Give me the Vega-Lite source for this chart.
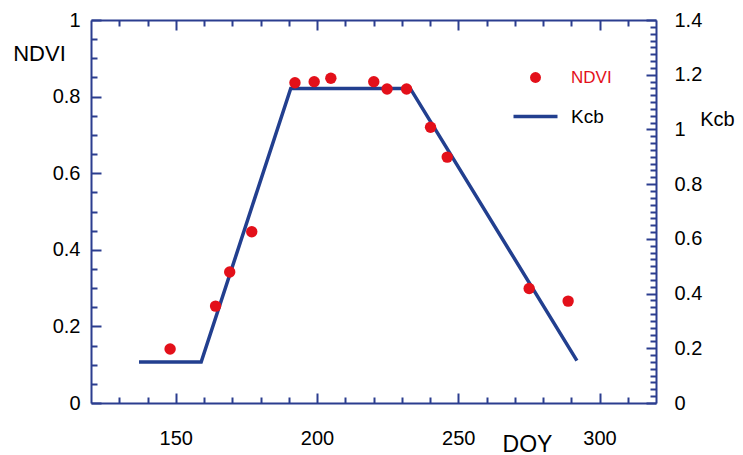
{
  "$schema": "https://vega.github.io/schema/vega-lite/v6.json",
  "width": 565,
  "height": 383,
  "autosize": "none",
  "padding": {"left": 91, "top": 20, "right": 87, "bottom": 52},
  "background": "white",
  "datasets": {
    "kcb": [
      {"DOY": 137, "Kcb": 0.15, "series": "Kcb"},
      {"DOY": 159, "Kcb": 0.15, "series": "Kcb"},
      {"DOY": 190.7, "Kcb": 1.15, "series": "Kcb"},
      {"DOY": 233, "Kcb": 1.15, "series": "Kcb"},
      {"DOY": 292, "Kcb": 0.155, "series": "Kcb"}
    ],
    "ndvi": [
      {"DOY": 148, "NDVI": 0.141, "series": "NDVI"},
      {"DOY": 164.1, "NDVI": 0.253, "series": "NDVI"},
      {"DOY": 169.1, "NDVI": 0.342, "series": "NDVI"},
      {"DOY": 176.9, "NDVI": 0.447, "series": "NDVI"},
      {"DOY": 192.2, "NDVI": 0.836, "series": "NDVI"},
      {"DOY": 199.0, "NDVI": 0.839, "series": "NDVI"},
      {"DOY": 204.9, "NDVI": 0.848, "series": "NDVI"},
      {"DOY": 220.1, "NDVI": 0.839, "series": "NDVI"},
      {"DOY": 224.8, "NDVI": 0.82, "series": "NDVI"},
      {"DOY": 231.7, "NDVI": 0.82, "series": "NDVI"},
      {"DOY": 240.2, "NDVI": 0.72, "series": "NDVI"},
      {"DOY": 246.1, "NDVI": 0.642, "series": "NDVI"},
      {"DOY": 275.1, "NDVI": 0.299, "series": "NDVI"},
      {"DOY": 288.9, "NDVI": 0.266, "series": "NDVI"}
    ]
  },
  "config": {
    "view": {"stroke": null},
    "axis": {
      "domainColor": "#2b3d8f",
      "domainWidth": 2,
      "tickColor": "#2b3d8f",
      "tickWidth": 2,
      "grid": false,
      "labelFont": "Liberation Sans",
      "labelFontSize": 20,
      "labelColor": "black",
      "titleColor": "black",
      "titleFontWeight": "normal"
    }
  },
  "layer": [
    {
      "data": {"name": "kcb"},
      "mark": {"type": "line", "strokeWidth": 3.5},
      "encoding": {
        "x": {
          "field": "DOY", "type": "quantitative",
          "scale": {"domain": [120, 320], "nice": false, "zero": false},
          "axis": {
            "orient": "bottom",
            "values": [130, 140, 150, 160, 170, 180, 190, 200, 210, 220, 230, 240, 250, 260, 270, 280, 290, 300, 310],
            "labelExpr": "datum.value % 50 === 0 ? datum.label : ''",
            "tickSize": {"condition": {"test": "datum.value % 50 === 0", "value": -10}, "value": -6},
            "labelPadding": 35,
            "labelFlush": false,
            "title": "DOY",
            "titleFont": "Liberation Sans",
            "titleFontSize": 23,
            "titleX": 436,
            "titleY": 48,
            "titleAlign": "center",
            "titleBaseline": "alphabetic"
          }
        },
        "y": {
          "field": "Kcb", "type": "quantitative",
          "scale": {"domain": [0, 1.4], "nice": false},
          "axis": {
            "orient": "right",
            "values": [0, 0.025, 0.05, 0.075, 0.1, 0.125, 0.15, 0.175, 0.2, 0.225, 0.25, 0.275, 0.3, 0.325, 0.35, 0.375, 0.4, 0.425, 0.45, 0.475, 0.5, 0.525, 0.55, 0.575, 0.6, 0.625, 0.65, 0.675, 0.7, 0.725, 0.75, 0.775, 0.8, 0.825, 0.85, 0.875, 0.9, 0.925, 0.95, 0.975, 1, 1.025, 1.05, 1.075, 1.1, 1.125, 1.15, 1.175, 1.2, 1.225, 1.25, 1.275, 1.3, 1.325, 1.35, 1.375, 1.4],
            "labelExpr": "abs(datum.value * 5 - round(datum.value * 5)) < 0.001 ? format(datum.value, '.1~f') : ''",
            "tickSize": {"condition": {"test": "abs(datum.value * 5 - round(datum.value * 5)) < 0.001", "value": -10}, "value": -6},
            "labelPadding": 28,
            "labelFlush": false,
            "title": "Kcb",
            "titleFont": "Liberation Sans",
            "titleFontSize": 20,
            "titleAngle": 0,
            "titleX": 61,
            "titleY": 99,
            "titleAlign": "center",
            "titleBaseline": "middle"
          }
        },
        "color": {
          "field": "series", "type": "nominal",
          "scale": {"domain": ["NDVI", "Kcb"], "range": ["#e3101a", "#223f8f"]},
          "legend": {
            "orient": "none",
            "legendX": 435,
            "legendY": 48,
            "title": null,
            "padding": 0,
            "symbolStrokeWidth": 3,
            "rowPadding": 21,
            "labelOffset": 26,
            "labelFont": "Liberation Sans",
            "labelFontSize": 19,
            "labelLimit": 200,
            "encode": {
              "symbols": {
                "update": {
                  "shape": {"signal": "datum.value === 'Kcb' ? 'stroke' : 'circle'"},
                  "size": {"signal": "datum.value === 'Kcb' ? 1936 : 120"},
                  "fill": {"signal": "datum.value === 'Kcb' ? 'transparent' : '#e3101a'"},
                  "stroke": {"signal": "datum.value === 'Kcb' ? '#2a65b0' : '#e3101a'"},
                  "strokeWidth": {"signal": "datum.value === 'Kcb' ? 3.5 : 0"},
                  "opacity": {"value": 1},
                  "fillOpacity": {"value": 1}
                }
              },
              "labels": {
                "update": {
                  "fill": {"signal": "datum.value === 'NDVI' ? '#e3101a' : 'black'"},
                  "fontSize": {"signal": "datum.value === 'NDVI' ? 17 : 19"}
                }
              }
            }
          }
        }
      }
    },
    {
      "data": {"name": "ndvi"},
      "mark": {"type": "point", "filled": true, "shape": "circle", "size": 130, "opacity": 1},
      "encoding": {
        "x": {
          "field": "DOY", "type": "quantitative",
          "axis": {
            "orient": "top",
            "values": [130, 140, 150, 160, 170, 180, 190, 200, 210, 220, 230, 240, 250, 260, 270, 280, 290, 300, 310],
            "labels": false,
            "tickSize": {"condition": {"test": "datum.value % 50 === 0", "value": -10}, "value": -6},
            "title": null
          }
        },
        "y": {
          "field": "NDVI", "type": "quantitative",
          "scale": {"domain": [0, 1], "nice": false},
          "axis": {
            "orient": "left",
            "values": [0, 0.05, 0.1, 0.15, 0.2, 0.25, 0.3, 0.35, 0.4, 0.45, 0.5, 0.55, 0.6, 0.65, 0.7, 0.75, 0.8, 0.85, 0.9, 0.95, 1],
            "labelExpr": "abs(datum.value * 5 - round(datum.value * 5)) < 0.001 ? format(datum.value, '.1~f') : ''",
            "tickSize": {"condition": {"test": "abs(datum.value * 5 - round(datum.value * 5)) < 0.001", "value": -10}, "value": -6},
            "labelPadding": 21,
            "labelFlush": false,
            "title": "NDVI",
            "titleFont": "Liberation Sans",
            "titleFontSize": 22,
            "titleAngle": 0,
            "titleX": -52,
            "titleY": 33,
            "titleAlign": "center",
            "titleBaseline": "middle"
          }
        },
        "color": {"field": "series", "type": "nominal"}
      }
    }
  ],
  "resolve": {"scale": {"y": "independent"}, "axis": {"x": "independent", "y": "independent"}}
}
